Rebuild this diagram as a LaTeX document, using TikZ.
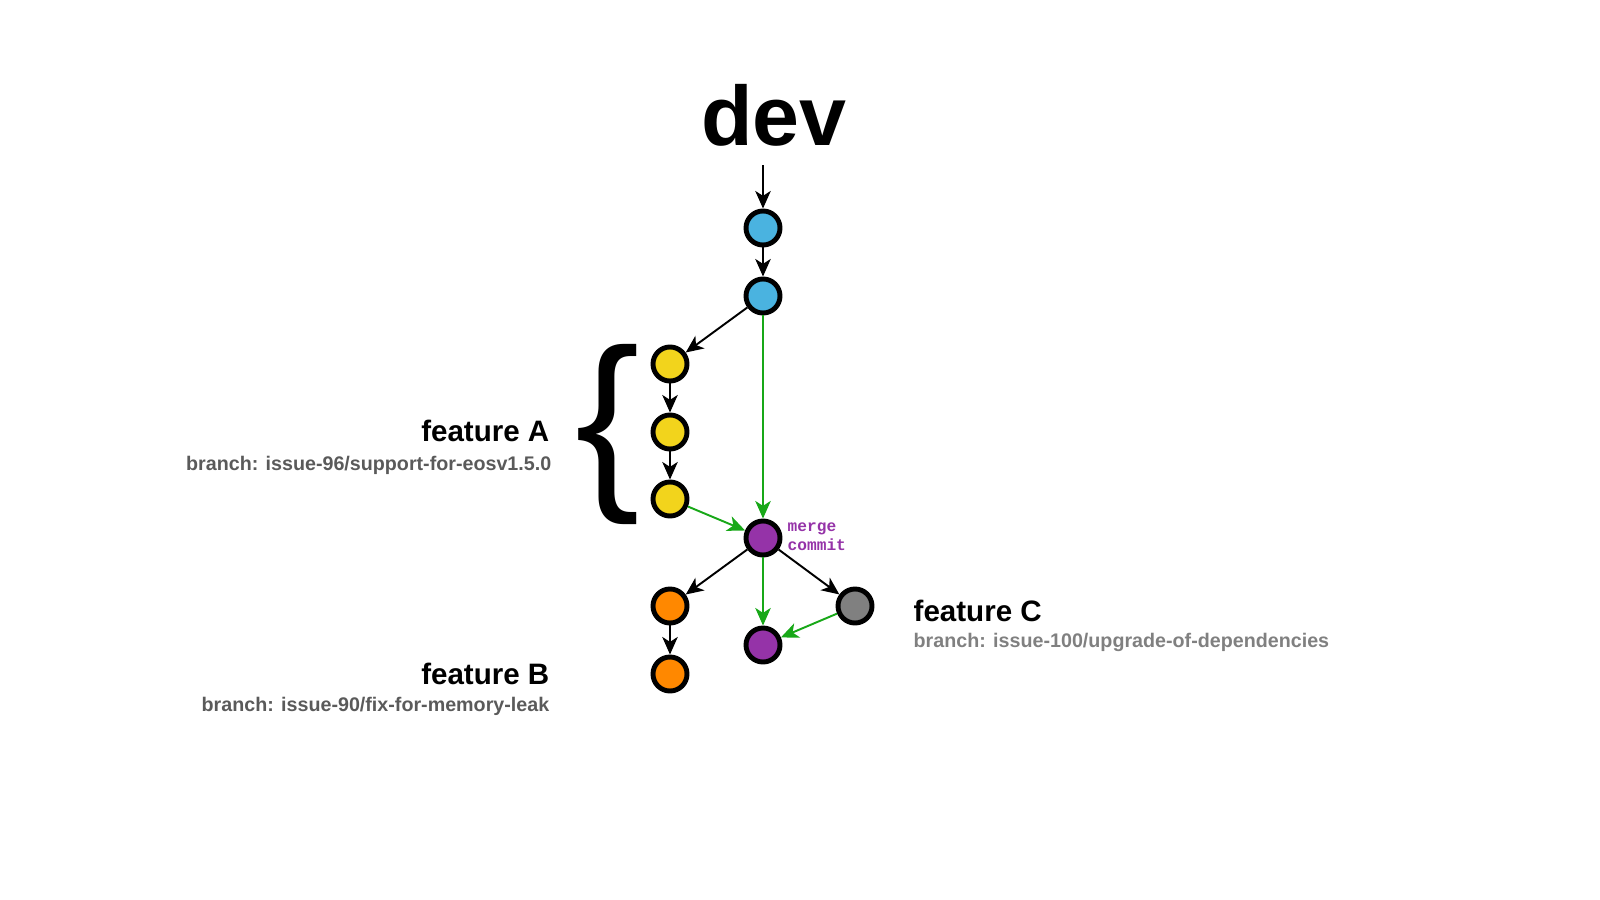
\documentclass[tikz,border=0pt]{standalone}
\usepackage{fontspec}
\setmainfont{Liberation Sans}
\newfontfamily\codefont{Liberation Mono}
\usetikzlibrary{arrows.meta}
\definecolor{devblue}{HTML}{4AB3E0}
\definecolor{featyellow}{HTML}{F2D41C}
\definecolor{mergepurple}{HTML}{9533A8}
\definecolor{featorange}{HTML}{FF8800}
\definecolor{featgray}{HTML}{808080}
\definecolor{mergegreen}{HTML}{18A818}
\definecolor{branchgray}{HTML}{5A5A5A}
\newcommand{\devfont}{\fontsize{24}{28}\selectfont\bfseries}
\newcommand{\featfont}{\fontsize{8.4}{10}\selectfont\bfseries}
\newcommand{\branchfont}{\fontsize{5.6}{7}\selectfont\bfseries}

\begin{document}
\begin{tikzpicture}[x=0.01cm,y=-0.01cm,
  commit/.style={circle,draw=black,line width=1.4pt,minimum size=0.34cm,inner sep=0pt},
  link/.style={-{Stealth[length=5pt,width=4.4pt,inset=1.4pt]},line width=0.55pt},
  mergelink/.style={link,color=mergegreen},
  label/.style={inner sep=0pt}]
\useasboundingbox (0,0) rectangle (1600,900);
%\draw[help lines, color=gray!30, dashed] (0,0) grid[step=100] (1600,900);
\node[label,font=\devfont,anchor=base] (dev) at (774,145) {dev};
\coordinate (devin) at (763,165);
\node[commit,fill=devblue] (d1) at (763,228) {};
\node[commit,fill=devblue] (d2) at (763,296) {};
\node[commit,fill=featyellow] (a1) at (670,364) {};
\node[commit,fill=featyellow] (a2) at (670,432) {};
\node[commit,fill=featyellow] (a3) at (670,499) {};
\node[commit,fill=mergepurple] (m1) at (763,538) {};
\node[commit,fill=featorange] (b1) at (670,606) {};
\node[commit,fill=featorange] (b2) at (670,674) {};
\node[commit,fill=featgray] (c1) at (855,606) {};
\node[commit,fill=mergepurple] (m2) at (763,645) {};
\draw[link] (devin)--(d1);
\draw[link] (d1)--(d2);
\draw[link] (d2)--(a1);
\draw[link] (a1)--(a2);
\draw[link] (a2)--(a3);
\draw[link] (m1)--(b1);
\draw[link] (b1)--(b2);
\draw[link] (m1)--(c1);
\draw[mergelink] (d2)--(m1);
\draw[mergelink] (a3)--(m1);
\draw[mergelink] (m1)--(m2);
\draw[mergelink] (c1)--(m2);
\node[label,anchor=west,align=left,text=mergepurple,font=\codefont\bfseries\fontsize{4.6}{5.4}\selectfont] (mlabel) at (787,537) {merge\\commit};
\node[label,font=\fontsize{55}{60}\selectfont] (braceA) at (608,434) {\{};
\node[label,anchor=base east,font=\featfont] (featA) at (550,441) {feature A};
\node[label,anchor=base east,font=\branchfont,text=branchgray] (branchA) at (552,470) {branch: issue-96/support-for-eosv1.5.0};
\node[label,anchor=base east,font=\featfont] (featB) at (550,684) {feature B};
\node[label,anchor=base east,font=\branchfont,text=branchgray] (branchB) at (550,711) {branch: issue-90/fix-for-memory-leak};
\node[label,anchor=base west,font=\featfont] (featC) at (913,621) {feature C};
\node[label,anchor=base west,font=\branchfont,text=featgray] (branchC) at (913,647) {branch: issue-100/upgrade-of-dependencies};
\end{tikzpicture}
\end{document}
